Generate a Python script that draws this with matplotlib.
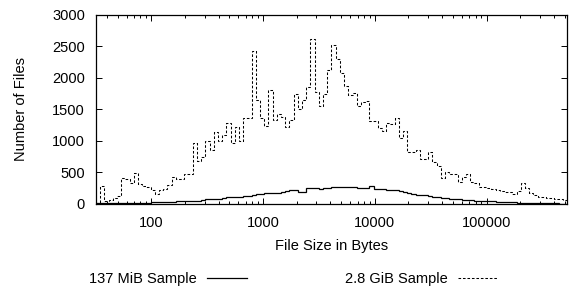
import matplotlib
matplotlib.use('Agg')
import matplotlib.pyplot as plt
from matplotlib.ticker import LogLocator, NullFormatter, FixedLocator
import numpy as np

plt.rcParams['font.family'] = ['Liberation Sans', 'DejaVu Sans']

# histogram bins: 8 per octave, 32 B .. 512 KiB
edges = 2.0 ** (5 + np.arange(113) / 8)

# 2.8 GiB sample (dashed)
big_sample = [
    20, 290, 50, 65, 90, 130, 420, 395, 330, 490,
    310, 290, 265, 215, 165, 225, 245, 300, 430, 395,
    390, 470, 475, 975, 685, 750, 1000, 860, 1140, 1000,
    1100, 1290, 965, 1225, 1000, 1360, 1370, 2430, 1650, 1360,
    1245, 1810, 1335, 1425, 1385, 1220, 1335, 1745, 1500, 1650,
    1860, 2615, 1785, 1555, 1745, 2125, 2525, 2295, 2085, 1875,
    1730, 1765, 1555, 1625, 1640, 1320, 1315, 1210, 1160, 1280,
    1270, 1370, 1045, 1165, 820, 820, 855, 710, 710, 830,
    670, 605, 420, 510, 480, 475, 355, 430, 475, 355,
    335, 275, 265, 250, 235, 225, 205, 195, 185, 155,
    210, 335, 250, 180, 150, 115, 105, 100, 95, 85,
    75, 70,
]

# 137 MiB sample (solid)
small_sample = [
    15, 10, 10, 12, 12, 15, 15, 15, 18, 18,
    20, 20, 22, 25, 28, 30, 32, 35, 38, 40,
    42, 45, 48, 50, 55, 60, 75, 75, 80, 80,
    95, 115, 105, 105, 110, 130, 132, 150, 155, 165,
    170, 180, 180, 180, 185, 210, 220, 222, 196, 196,
    250, 250, 250, 245, 250, 250, 262, 265, 265, 265,
    275, 275, 250, 250, 260, 285, 240, 240, 240, 222,
    222, 222, 200, 190, 180, 165, 150, 145, 140, 125,
    115, 115, 100, 90, 85, 80, 78, 70, 65, 60,
    55, 48, 45, 42, 40, 38, 32, 30, 28, 25,
    22, 20, 18, 15, 14, 12, 10, 10, 8, 8,
    6, 5,
]

fs = 10.5

fig = plt.figure(figsize=(5.69, 2.90), dpi=100)
ax = fig.add_axes([0.1687, 0.2966, 0.8278, 0.6517])

ax.stairs(small_sample, edges, baseline=None, color='black', linewidth=0.9,
          label='137 MiB Sample')
ax.stairs(big_sample, edges, baseline=None, color='black', linewidth=0.75,
          linestyle=(0, (2.5, 1.8)), label='2.8 GiB Sample')

ax.set_xscale('log')
ax.set_xlim(2 ** 5, 2 ** 19)
ax.set_ylim(0, 3000)
ax.xaxis.set_major_locator(FixedLocator([100, 1000, 10000, 100000]))
ax.xaxis.set_minor_locator(LogLocator(base=10, subs=np.arange(2, 10)))
ax.xaxis.set_minor_formatter(NullFormatter())
ax.set_xticklabels(['100', '1000', '10000', '100000'])
ax.set_yticks(range(0, 3001, 500))

ax.tick_params(which='both', direction='in', top=True, right=True,
               labelsize=fs, colors='black', width=0.7)
ax.tick_params(which='major', length=4.5)
ax.tick_params(axis='x', which='major', pad=9)
ax.tick_params(axis='y', which='major', pad=8)
ax.tick_params(which='minor', length=2.5)
for s in ax.spines.values():
    s.set_linewidth(0.9)

ax.set_xlabel('File Size in Bytes', fontsize=fs, labelpad=6)
ax.set_ylabel('Number of Files', fontsize=fs, labelpad=17)

fig.legend(loc='center', bbox_to_anchor=(0.516, 0.038), ncol=2,
           frameon=False, markerfirst=False, fontsize=fs,
           handlelength=2.75, handletextpad=0.7, columnspacing=6.7)

fig.savefig('out.png', dpi=100)
